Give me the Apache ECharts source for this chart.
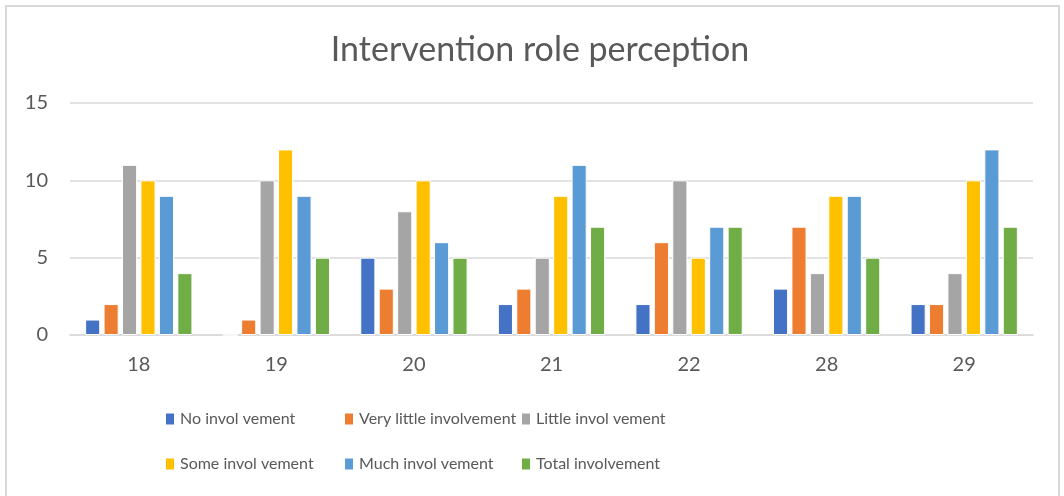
<!DOCTYPE html>
<html><head><meta charset="utf-8">
<script src="https://cdn.jsdelivr.net/npm/echarts@6/dist/echarts.min.js"></script>
<style>
html,body{margin:0;padding:0;background:#fff;}
#frame{position:absolute;left:5px;top:5px;width:1055px;height:500px;border:2px solid #D9D9D9;box-sizing:border-box;}
#chart{position:absolute;left:0;top:0;width:1064px;height:496px;}
</style>
</head><body>
<div id="frame"></div>
<div id="chart"></div>
<script>
const categories = ['18','19','20','21','22','28','29'];
const seriesNames = ['No invol vement','Very little involvement','Little invol vement','Some invol vement','Much invol vement','Total involvement'];
const noInvolvement = [1, 0, 5, 2, 2, 3, 2];
const veryLittle = [2, 1, 3, 3, 6, 7, 2];
const little = [11, 10, 8, 5, 10, 4, 4];
const some = [10, 12, 10, 9, 5, 9, 10];
const much = [9, 9, 6, 11, 7, 9, 12];
const total = [4, 5, 5, 7, 7, 5, 7];
const yTicks = [0, 5, 10, 15];

const values = [noInvolvement, veryLittle, little, some, much, total];
const colors = ['#4472C4','#ED7D31','#A5A5A5','#FFC000','#5B9BD5','#70AD47'];
const font = 'Lato, "Open Sans", sans-serif';
const legendPos = [[164,411],[343,411],[520,411],[164,456],[343,456],[520,456]];

const chart = echarts.init(document.getElementById('chart'));
chart.setOption({
  animation:false,
  color: colors,
  title:{text:'Intervention role perception', left:535, top:28, textAlign:'center',
    textStyle:{fontFamily:font,fontSize:34,fontWeight:'normal',color:'#595959'}},
  legend: seriesNames.map((n,i)=>({
    data:[n], left:legendPos[i][0], top:legendPos[i][1], padding:0, icon:'rect', itemWidth:10, itemHeight:13, itemGap:5,
    textStyle:{fontFamily:font,fontSize:16,color:'#595959',padding:[0,0,0,0]}
  })),
  grid:{left:70,right:31,top:103,bottom:161},
  xAxis:{type:'category',data:categories,
    axisLine:{lineStyle:{color:'#D9D9D9',width:1.5}},axisTick:{show:false},
    axisLabel:{fontFamily:font,fontSize:20,color:'#595959',margin:20}},
  yAxis:{type:'value',min:yTicks[0],max:yTicks[yTicks.length-1],interval:5,
    axisLine:{show:false},axisTick:{show:false},
    splitLine:{lineStyle:{color:'#D9D9D9',width:1.5}},
    axisLabel:{fontFamily:font,fontSize:20,color:'#595959',margin:22,align:'right'}},
  series: seriesNames.map((n,i)=>({
    name:n,type:'bar',data:values[i],barGap:'22%',barCategoryGap:'22%',
    itemStyle:{borderColor:'#fff',borderWidth:1}
  }))
});
</script>
</body></html>
